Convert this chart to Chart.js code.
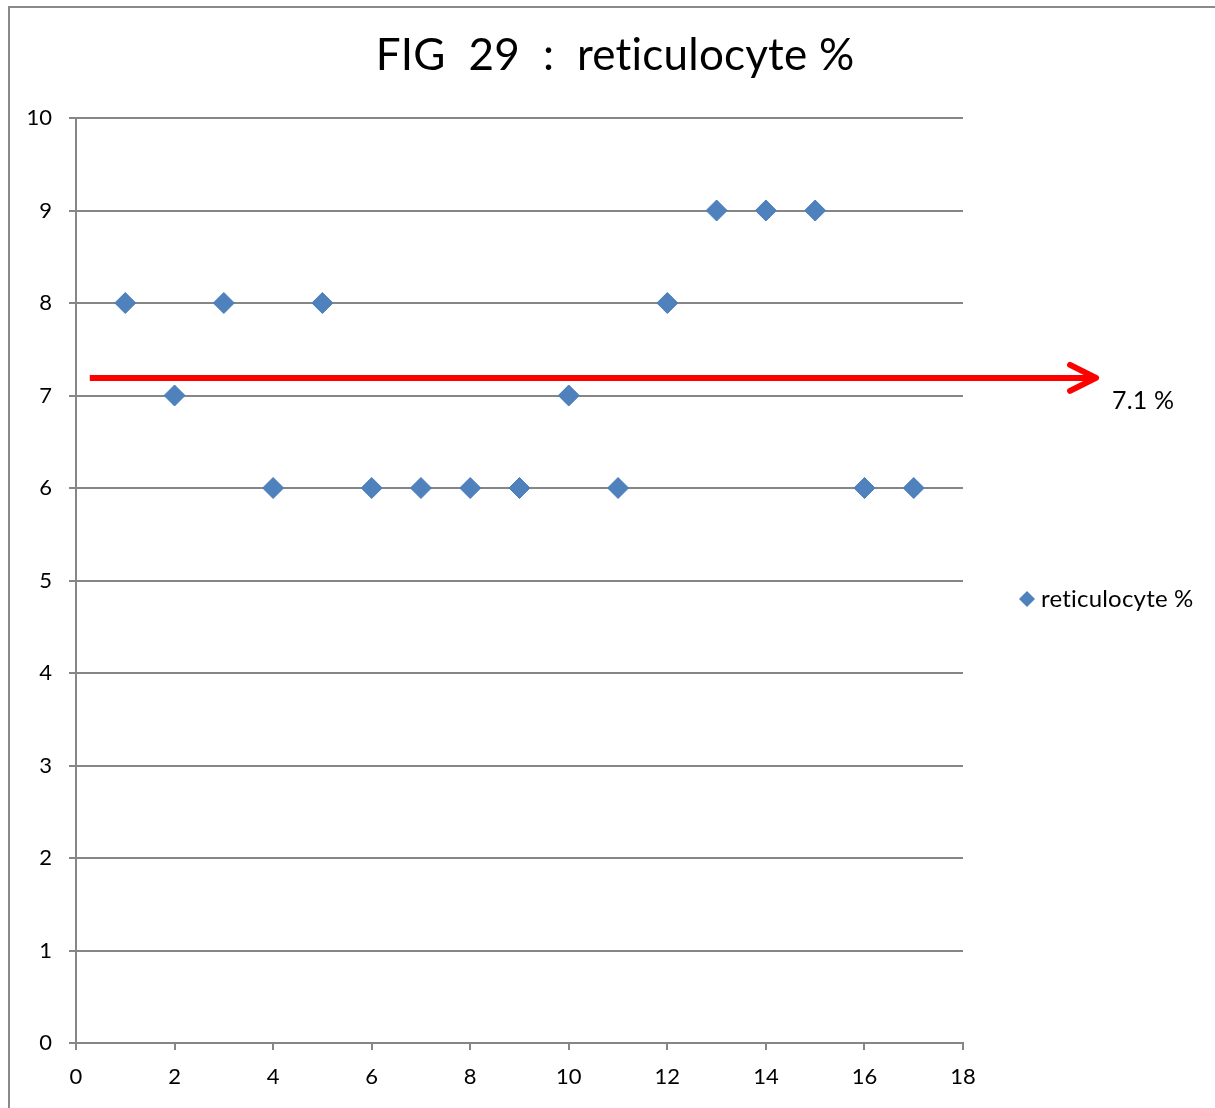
<!DOCTYPE html>
<html>
<head>
<meta charset="utf-8">
<script src="https://cdn.jsdelivr.net/npm/chart.js@4.4.1/dist/chart.umd.min.js"></script>
<style>
  html, body { margin: 0; padding: 0; background: #fff; }
  #wrap { position: relative; width: 1215px; height: 1108px; }
  #frame { position: absolute; left: 8px; top: 6px; right: 0; bottom: 0;
           border-left: 2px solid #8a8a8a; border-top: 2px solid #8a8a8a; }
  canvas { position: absolute; left: 0; top: 0; }
</style>
</head>
<body>
<div id="wrap">
  <div id="frame"></div>
  <canvas id="myChart" width="1215" height="1108"></canvas>
</div>
<script>
'use strict';

// sample index along x, reticulocyte % along y
var sampleNo = [1, 2, 3, 4, 5, 6, 7, 8, 9, 10, 11, 12, 13, 14, 15, 16, 17];
var reticPct = [8, 7, 8, 6, 8, 6, 6, 6, 6, 7, 6, 8, 9, 9, 9, 6, 6];
var xTicks = [0, 2, 4, 6, 8, 10, 12, 14, 16, 18];
var yTicks = [0, 1, 2, 3, 4, 5, 6, 7, 8, 9, 10];

var titleText = 'FIG  29  :  reticulocyte %';
var seriesName = 'reticulocyte %';
var meanLabel = '7.1 %';
var meanLine = 7.19;     // where the red arrow sits on the y scale
var arrowFrom = 0.28, arrowTo = 20.7;

var FONT = 'Lato, "Open Sans", sans-serif';
var GRID = '#868686';
var BLUE = '#4f81bd';

var points = sampleNo.map(function(x, i) { return { x: x, y: reticPct[i] }; });

// title, red arrow + label, legend
var extras = {
	id: 'extras',
	afterDraw: function(chart) {
		var ctx = chart.ctx;
		var xs = chart.scales.x, ys = chart.scales.y;
		ctx.save();
		// a tiny spacing keeps Lato from joining "ti"
		ctx.letterSpacing = '0.2px';

		ctx.fillStyle = '#000';
		ctx.font = '44px ' + FONT;
		ctx.textAlign = 'center';
		ctx.textBaseline = 'middle';
		ctx.fillText(titleText, 615, 56);

		// arrow
		var y = ys.getPixelForValue(meanLine);
		var x0 = xs.getPixelForValue(arrowFrom), x1 = xs.getPixelForValue(arrowTo);
		ctx.strokeStyle = '#ff0000';
		ctx.lineWidth = 6;
		ctx.lineCap = 'butt';
		ctx.beginPath();
		ctx.moveTo(x0, y);
		ctx.lineTo(x1 - 3, y);
		ctx.stroke();
		ctx.lineCap = 'round';
		ctx.lineJoin = 'round';
		ctx.beginPath();
		ctx.moveTo(x1 - 26, y - 13);
		ctx.lineTo(x1, y);
		ctx.lineTo(x1 - 26, y + 13);
		ctx.stroke();

		ctx.fillStyle = '#000';
		ctx.font = '25px ' + FONT;
		ctx.textAlign = 'left';
		ctx.fillText(meanLabel, 1112, y + 23);

		// legend
		var ly = 599, lx = 1027;
		ctx.fillStyle = BLUE;
		ctx.beginPath();
		ctx.moveTo(lx, ly - 8);
		ctx.lineTo(lx + 8, ly);
		ctx.lineTo(lx, ly + 8);
		ctx.lineTo(lx - 8, ly);
		ctx.closePath();
		ctx.fill();
		ctx.fillStyle = '#000';
		ctx.font = '24px ' + FONT;
		ctx.fillText(seriesName, 1041, ly);

		ctx.restore();
	}
};

var chart = new Chart(document.getElementById('myChart'), {
	type: 'scatter',
	data: {
		datasets: [{
			label: seriesName,
			data: points,
			pointStyle: 'rectRot',
			pointRadius: 10.5,
			pointHoverRadius: 10.5,
			backgroundColor: BLUE,
			borderColor: '#4a7ebb',
			borderWidth: 1
		}]
	},
	options: {
		responsive: false,
		animation: false,
		layout: { padding: { top: 118, right: 252, left: 0, bottom: 0 } },
		plugins: {
			legend: { display: false },
			title: { display: false },
			tooltip: { enabled: false }
		},
		scales: {
			x: {
				type: 'linear',
				min: 0, max: 18,
				afterBuildTicks: function(s) { s.ticks = xTicks.map(function(v) { return { value: v }; }); },
				afterFit: function(s) { s.height = 65; },
				grid: { drawOnChartArea: false, drawTicks: true, tickLength: 7, color: GRID, lineWidth: 2 },
				border: { display: true, color: GRID, width: 2 },
				ticks: { color: '#000', font: { family: FONT, size: 22 }, padding: 14, maxRotation: 0 }
			},
			y: {
				type: 'linear',
				min: 0, max: 10,
				afterBuildTicks: function(s) { s.ticks = yTicks.map(function(v) { return { value: v }; }); },
				afterFit: function(s) { s.width = 76; },
				grid: { drawTicks: true, tickLength: 7, color: GRID, lineWidth: 2 },
				border: { display: true, color: GRID, width: 2 },
				ticks: { color: '#000', font: { family: FONT, size: 22 }, padding: 17 }
			}
		}
	},
	plugins: [extras]
});
</script>
</body>
</html>
